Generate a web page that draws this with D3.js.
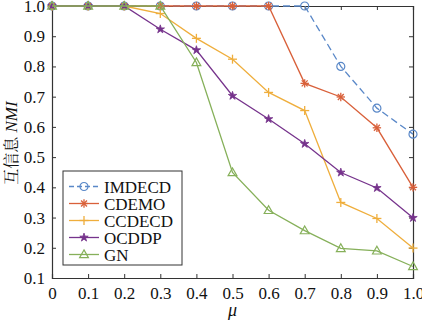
<!DOCTYPE html>
<html>
<head>
<meta charset="utf-8">
<script src="https://cdn.jsdelivr.net/npm/d3@7"></script>
</head>
<body style="margin:0">
<svg id="chart" width="422" height="321"></svg>
<script>
// Data
var mu = [0, 0.1, 0.2, 0.3, 0.4, 0.5, 0.6, 0.7, 0.8, 0.9, 1.0];
var imdecd = [1, 1, 1, 1, 1, 1, 1, 1, 0.80, 0.662, 0.576];
var cdemo  = [1, 1, 1, 1, 1, 1, 1, 0.744, 0.699, 0.597, 0.40];
var ccdecd = [1, 1, 1, 0.975, 0.893, 0.824, 0.714, 0.654, 0.35, 0.297, 0.199];
var ocddp  = [1, 1, 1, 0.923, 0.854, 0.703, 0.626, 0.544, 0.449, 0.398, 0.299];
var gn     = [1, 1, 1, 1, 0.813, 0.449, 0.324, 0.257, 0.198, 0.19, 0.138];
var xTicks = [0, 0.1, 0.2, 0.3, 0.4, 0.5, 0.6, 0.7, 0.8, 0.9, 1.0];
var yTicks = [0.1, 0.2, 0.3, 0.4, 0.5, 0.6, 0.7, 0.8, 0.9, 1.0];

var series = [
    { name: "IMDECD", values: imdecd, color: "#5a88c8", marker: "circle", dash: "7,4" },
    { name: "CDEMO",  values: cdemo,  color: "#d9603a", marker: "asterisk", dash: null },
    { name: "CCDECD", values: ccdecd, color: "#efae3c", marker: "plus", dash: null },
    { name: "OCDDP",  values: ocddp,  color: "#76338c", marker: "star", dash: null },
    { name: "GN",     values: gn,     color: "#86b05a", marker: "triangle", dash: null }
];

var serif = "Liberation Serif";

var svg = d3.select("#chart");
var margin = { top: 6, right: 9, bottom: 43, left: 52 };
var width = 422 - margin.left - margin.right,
    height = 321 - margin.top - margin.bottom;

var g = svg.append("g")
    .attr("transform", `translate(${margin.left},${margin.top})`);

var x = d3.scaleLinear().domain([0, 1]).range([0, width]);
var y = d3.scaleLinear().domain([0.1, 1]).range([height, 0]);

// Axes (ticks pointing inward, box on all sides)
var axisColor = "#333";
function styleAxis(sel) {
    sel.attr("font-family", serif).attr("font-size", 17);
    sel.select(".domain").attr("stroke", axisColor).attr("stroke-width", 1.2);
    sel.selectAll(".tick line").attr("stroke", axisColor);
    sel.selectAll(".tick text")
        .attr("fill", "#111")
        .attr("font-size", 17)
        .attr("font-family", serif);
}

g.append("g")
    .attr("transform", `translate(0,${height})`)
    .call(d3.axisBottom(x).tickValues(xTicks).tickSize(-4).tickPadding(9)
        .tickFormat(d => d === 1 ? "1.0" : (d === 0 ? "0" : d3.format(".1f")(d))))
    .call(styleAxis);

g.append("g")
    .call(d3.axisLeft(y).tickValues(yTicks).tickSize(-4).tickPadding(7).tickFormat(d3.format(".1f")))
    .call(styleAxis);

g.append("g")
    .call(d3.axisTop(x).tickValues(xTicks).tickSize(-4).tickFormat(""))
    .call(styleAxis);

g.append("g")
    .attr("transform", `translate(${width},0)`)
    .call(d3.axisRight(y).tickValues(yTicks).tickSize(-4).tickFormat(""))
    .call(styleAxis);

// Marker drawing
function drawMarker(sel, type, color) {
    if (type === "circle") {
        sel.append("circle").attr("r", 4).attr("fill", "none")
            .attr("stroke", color).attr("stroke-width", 1.2);
    } else if (type === "asterisk") {
        var r = 4.2;
        [0, 45, 90, 135].forEach(a => {
            var rad = a * Math.PI / 180;
            sel.append("line")
                .attr("x1", -r * Math.cos(rad)).attr("y1", -r * Math.sin(rad))
                .attr("x2", r * Math.cos(rad)).attr("y2", r * Math.sin(rad))
                .attr("stroke", color).attr("stroke-width", 1.3);
        });
    } else if (type === "plus") {
        var p = 4.5;
        sel.append("line").attr("x1", -p).attr("x2", p).attr("y1", 0).attr("y2", 0)
            .attr("stroke", color).attr("stroke-width", 1.3);
        sel.append("line").attr("x1", 0).attr("x2", 0).attr("y1", -p).attr("y2", p)
            .attr("stroke", color).attr("stroke-width", 1.3);
    } else if (type === "star") {
        sel.append("path").attr("d", d3.symbol(d3.symbolStar, 22)())
            .attr("fill", color).attr("stroke", color).attr("stroke-width", 0.8);
    } else if (type === "triangle") {
        sel.append("path").attr("d", "M0,-4.6L4.4,3.2L-4.4,3.2Z")
            .attr("fill", "none").attr("stroke", color).attr("stroke-width", 1.2);
    }
}

var line = d3.line()
    .x((d, i) => x(mu[i]))
    .y(d => y(d));

series.forEach(s => {
    g.append("path")
        .datum(s.values)
        .attr("fill", "none")
        .attr("stroke", s.color)
        .attr("stroke-width", 1.3)
        .attr("stroke-dasharray", s.dash)
        .attr("d", line);

    s.values.forEach((v, i) => {
        var m = g.append("g").attr("transform", `translate(${x(mu[i])},${y(v)})`);
        drawMarker(m, s.marker, s.color);
    });
});

// Axis labels
var yLabel = svg.append("text")
    .attr("transform", `translate(17,143) rotate(-90)`)
    .attr("text-anchor", "middle")
    .attr("font-size", 17)
    .attr("font-family", serif)
    .attr("fill", "#111");
yLabel.append("tspan")
    .attr("font-family", "Noto Serif CJK SC")
    .attr("font-size", 16)
    .text("互信息 ");
yLabel.append("tspan")
    .attr("font-style", "italic")
    .text("NMI");

svg.append("text")
    .attr("x", margin.left + width / 2)
    .attr("y", 316)
    .attr("text-anchor", "middle")
    .attr("font-size", 18)
    .attr("font-style", "italic")
    .attr("font-family", serif)
    .attr("fill", "#111")
    .text("μ");

// Legend
var legend = svg.append("g")
    .attr("transform", `translate(63,171)`);

legend.append("rect")
    .attr("width", 119)
    .attr("height", 94)
    .attr("fill", "white")
    .attr("stroke", "#333")
    .attr("stroke-width", 1);

series.forEach((s, i) => {
    var ly = 15.5 + i * 17;
    legend.append("line")
        .attr("x1", 6).attr("x2", 36)
        .attr("y1", ly).attr("y2", ly)
        .attr("stroke", s.color)
        .attr("stroke-width", 1.3)
        .attr("stroke-dasharray", s.dash ? "5,3" : null);
    var m = legend.append("g").attr("transform", `translate(21,${ly})`);
    drawMarker(m, s.marker, s.color);
    legend.append("text")
        .attr("x", 41)
        .attr("y", ly + 6)
        .attr("font-size", 17)
        .attr("font-family", serif)
        .attr("fill", "#111")
        .text(s.name);
});
</script>
</body>
</html>
